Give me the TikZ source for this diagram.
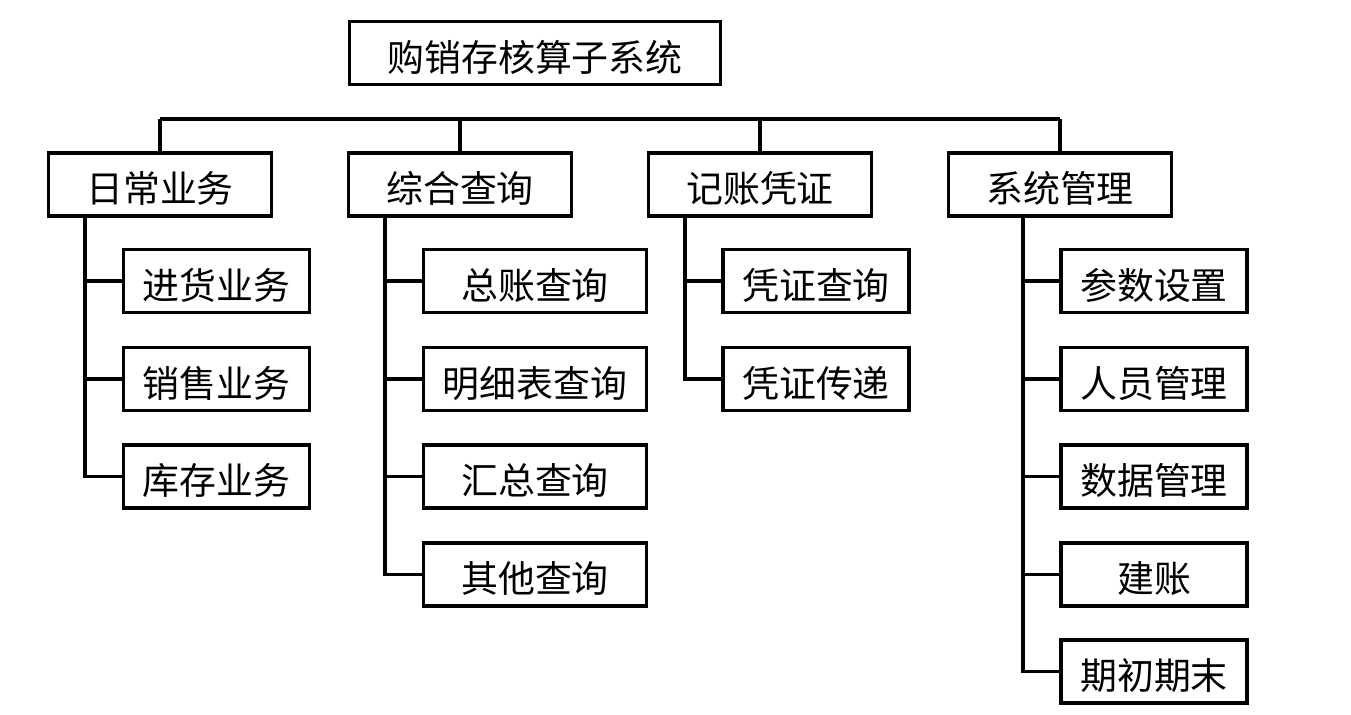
\documentclass[tikz,border=0pt]{standalone}
\usepackage{fontspec}
\newfontfamily\cjk{Noto Sans CJK SC}
\usetikzlibrary{calc}
\tikzset{
 unit/.style={draw=black,line width=1.9pt,minimum height=1.26cm,inner sep=0pt,text height=23pt,text depth=2.5pt,font=\cjk\fontsize{21}{25}\selectfont},
 root/.style={unit,minimum width=7.42cm},
 module/.style={unit,minimum width=4.46cm},
 func/.style={unit,minimum width=3.72cm},
 widefunc/.style={unit,minimum width=4.46cm},
 link/.style={line width=1.9pt,draw=black}}
\begin{document}
\begin{tikzpicture}[x=0.02cm,y=-0.02cm]
\useasboundingbox (0,0) rectangle (1351,715);

\node[root] (system) at (535,53) {购销存核算子系统};

\node[module] (daily) at (160,184.5) {日常业务};
\node[module] (query) at (460,184.5) {综合查询};
\node[module] (voucher) at (760,184.5) {记账凭证};
\node[module] (admin) at (1060,184.5) {系统管理};

\node[func] (purchase) at (216.5,281) {进货业务};
\node[func] (sales) at (216.5,379) {销售业务};
\node[func] (stock) at (216.5,476.5) {库存业务};

\node[widefunc] (ledger) at (535,281) {总账查询};
\node[widefunc] (detail) at (535,379) {明细表查询};
\node[widefunc] (summary) at (535,476.5) {汇总查询};
\node[widefunc] (other) at (535,574.5) {其他查询};

\node[func] (vquery) at (816,281) {凭证查询};
\node[func] (vpass) at (816,379) {凭证传递};

\node[func] (params) at (1154,281) {参数设置};
\node[func] (staff) at (1154,379) {人员管理};
\node[func] (data) at (1154,476.5) {数据管理};
\node[func] (books) at (1154,574.5) {建账};
\node[func] (period) at (1154,671.5) {期初期末};

% bus between the modules
\coordinate (busL) at (160,119);
\coordinate (busR) at (1060,119);
\draw[link] (busL) -- (busR);
\draw[link] (daily.north) -- (daily.north |- busL);
\draw[link] (query.north) -- (query.north |- busL);
\draw[link] (voucher.north) -- (voucher.north |- busL);
\draw[link] (admin.north) -- (admin.north |- busL);

% spines to the functions
\draw[link] ($(daily.south west)+(38,0)$) |- (purchase.west);
\draw[link] ($(daily.south west)+(38,0)$) |- (sales.west);
\draw[link] ($(daily.south west)+(38,0)$) |- (stock.west);

\draw[link] ($(query.south west)+(38,0)$) |- (ledger.west);
\draw[link] ($(query.south west)+(38,0)$) |- (detail.west);
\draw[link] ($(query.south west)+(38,0)$) |- (summary.west);
\draw[link] ($(query.south west)+(38,0)$) |- (other.west);

\draw[link] ($(voucher.south west)+(38,0)$) |- (vquery.west);
\draw[link] ($(voucher.south west)+(38,0)$) |- (vpass.west);

\draw[link] ($(admin.south west)+(76,0)$) |- (params.west);
\draw[link] ($(admin.south west)+(76,0)$) |- (staff.west);
\draw[link] ($(admin.south west)+(76,0)$) |- (data.west);
\draw[link] ($(admin.south west)+(76,0)$) |- (books.west);
\draw[link] ($(admin.south west)+(76,0)$) |- (period.west);
\end{tikzpicture}
\end{document}
